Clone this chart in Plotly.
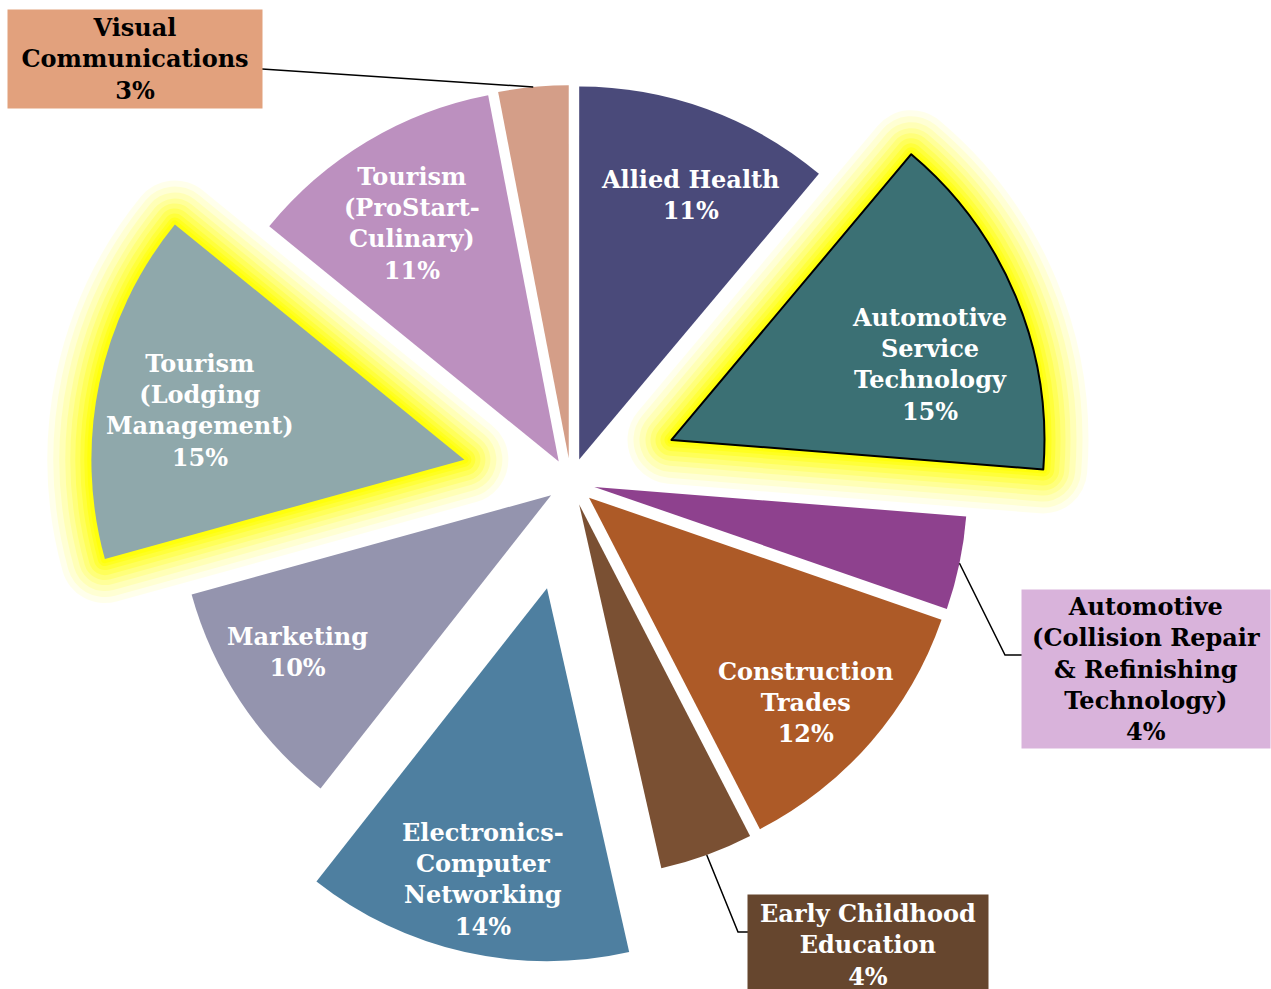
import math
import plotly.graph_objects as go

# ---------------- data ----------------
categories = [
    "Allied Health",
    "Automotive Service Technology",
    "Automotive (Collision Repair & Refinishing Technology)",
    "Construction Trades",
    "Early Childhood Education",
    "Electronics-Computer Networking",
    "Marketing",
    "Tourism (Lodging Management)",
    "Tourism (ProStart-Culinary)",
    "Visual Communications",
]
values = [11, 15, 4, 12, 4, 14, 10, 15, 11, 3]
label_lines = [
    ["Allied Health"],
    ["Automotive", "Service", "Technology"],
    ["Automotive", "(Collision Repair", "& Refinishing", "Technology)"],
    ["Construction", "Trades"],
    ["Early Childhood", "Education"],
    ["Electronics-", "Computer", "Networking"],
    ["Marketing"],
    ["Tourism", "(Lodging", "Management)"],
    ["Tourism", "(ProStart-", "Culinary)"],
    ["Visual", "Communications"],
]
colors = ["#4A4A7A", "#3B7074", "#8E418E", "#AD5A27", "#7A5033",
          "#4E7FA0", "#9494AE", "#8FA8AB", "#BC90BF", "#D49E88"]
pulls = [0.064, 0.292, 0.064, 0.064, 0.064, 0.292, 0.064, 0.292, 0.064, 0.064]
highlighted = [False, True, False, False, False, False, False, True, False, False]
outlined = [False, True, False, False, False, False, False, False, False, False]

# ---------------- geometry / styles ----------------
W, H = 1271, 989
R_PX = 373
CX, CY = 571, 482
FONT = "DejaVu Serif"
FS = 24

max_pull = max(pulls)
box = 2 * R_PX * (1 + max_pull)
dom_x = [max(0, (CX - box / 2) / W), min(1, (CX + box / 2) / W)]
dom_y = [max(0, 1 - (CY + box / 2) / H), min(1, 1 - (CY - box / 2) / H)]

n = len(values)
total = float(sum(values))
mids = []
acc = 0.0
for v in values:
    mids.append((acc + v / 2) / total * 2 * math.pi)
    acc += v


def px_to_paper(x, y):
    return x / W, 1 - y / H


def slice_point(i, frac, ang_off_deg=0.0):
    th = mids[i]
    ax = CX + pulls[i] * R_PX * math.sin(th)
    ay = CY - pulls[i] * R_PX * math.cos(th)
    t2 = th + math.radians(ang_off_deg)
    return ax + frac * R_PX * math.sin(t2), ay - frac * R_PX * math.cos(t2)


fig = go.Figure()

pie_common = dict(
    values=values, labels=categories, sort=False, direction="clockwise",
    rotation=0, pull=pulls, domain=dict(x=dom_x, y=dom_y), textinfo="none",
    showlegend=False,
)

# glow layers (soft yellow halo behind highlighted slices)
glow = [(88, 0.08), (76, 0.10), (64, 0.13), (52, 0.16), (42, 0.20),
        (32, 0.26), (22, 0.34), (14, 0.45), (8, 0.6)]
for w, a in glow:
    fig.add_trace(go.Pie(
        **pie_common, hoverinfo="skip",
        marker=dict(
            colors=["rgba(0,0,0,0)"] * n,
            line=dict(color=[f"rgba(255,255,0,{a})" if h else "rgba(0,0,0,0)" for h in highlighted],
                      width=[w if h else 0 for h in highlighted]),
        ),
    ))

# main pie
fig.add_trace(go.Pie(
    **pie_common,
    hovertemplate="%{label}: %{value}%<extra></extra>",
    marker=dict(
        colors=colors,
        line=dict(color=["#000000" if o else "rgba(0,0,0,0)" for o in outlined],
                  width=[2 if o else 0 for o in outlined]),
    ),
))

# inside labels
inside_pos = {0: (0.77, 2.8), 1: (0.72, 6.4), 3: (0.80, 2.5), 5: (0.80, -0.3),
              6: (0.80, 2.0), 7: (0.72, -1.2), 8: (0.75, -0.7)}
annotations = []
for i, (frac, off) in inside_pos.items():
    x, y = slice_point(i, frac, off)
    px, py = px_to_paper(x, y)
    annotations.append(dict(
        x=px, y=py, xref="paper", yref="paper", showarrow=False,
        text="<br>".join(label_lines[i] + [f"{values[i]}%"]),
        font=dict(family=FONT, size=FS, color="white", weight="bold"),
        align="center", xanchor="center", yanchor="middle",
    ))

# boxed outside labels: (index, box centre px, box w, box h, bg, text colour, elbow points)
outside = [
    (9, (135, 59), 254, 98, "#E2A17D", "black", [(262, 69)]),
    (2, (1146, 669), 248, 158, "#D9B3DB", "black", [(1005, 655), (1022, 655)]),
    (4, (868, 945), 240, 100, "#66462E", "white", [(738, 932), (748, 932)]),
]
shapes = []
for i, (bx, by), bw, bh, bg, tc, elbow in outside:
    px, py = px_to_paper(bx, by)
    annotations.append(dict(
        x=px, y=py, xref="paper", yref="paper", showarrow=False,
        text="<br>".join(label_lines[i] + [f"{values[i]}%"]),
        font=dict(family=FONT, size=FS, color=tc, weight="bold"),
        align="center", xanchor="center", yanchor="middle",
        width=bw, height=bh, bgcolor=bg, borderpad=0, valign="middle",
    ))
    ax, ay = slice_point(i, 1.0)
    pts = [(ax, ay)] + elbow
    path = "M " + " L ".join(f"{x / W:.5f},{1 - y / H:.5f}" for x, y in pts)
    shapes.append(dict(type="path", path=path, xref="paper", yref="paper",
                       line=dict(color="black", width=1.5)))

fig.update_layout(
    width=W, height=H, margin=dict(l=0, r=0, t=0, b=0),
    paper_bgcolor="white", plot_bgcolor="white",
    annotations=annotations, shapes=shapes, showlegend=False,
)

fig.write_html(
    "out.html",
    config={"displayModeBar": False},
    post_script="document.body.style.margin='0';document.body.style.overflow='hidden';",
)
